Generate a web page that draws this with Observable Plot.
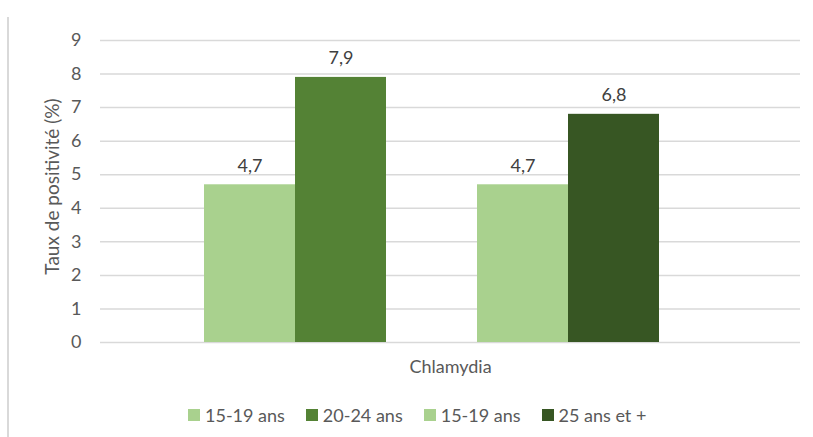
<!DOCTYPE html>
<html>
<head>
<meta charset="utf-8">
<script src="https://cdn.jsdelivr.net/npm/d3@7"></script>
<script src="https://cdn.jsdelivr.net/npm/@observablehq/plot@0.6"></script>
<style>
  html, body { margin: 0; padding: 0; background: #fff; }
  body { width: 813px; height: 437px; overflow: hidden; position: relative; font-family: Lato, "Open Sans", sans-serif; }
  #frame { position: absolute; left: 7px; top: 17px; width: 0; height: 430px; border-left: 2px solid #d9d9d9; }
  #chart { position: absolute; left: 0; top: 0; }
  #legend { position: absolute; left: 188px; top: 404px; display: flex; align-items: center; font-size: 18px; color: #595959; }
  #legend .item { display: flex; align-items: center; margin-right: 21px; }
  #legend .sw { width: 12px; height: 12px; margin-right: 5px; }
</style>
</head>
<body>
<div id="frame"></div>
<div id="chart"></div>
<div id="legend"></div>
<script>
const category = "Chlamydia";
const seriesNames = ["15-19 ans", "20-24 ans", "15-19 ans", "25 ans et +"];
const seriesValues = [4.7, 7.9, 4.7, 6.8];
const seriesColors = ["#A9D18E", "#548235", "#A9D18E", "#375623"];
const slots = ["s0", "s1", "gap", "s2", "s3"];
const barSlots = ["s0", "s1", "s2", "s3"];
const yTicks = [0, 1, 2, 3, 4, 5, 6, 7, 8, 9];
const yLabel = "Taux de positivité (%)";

const data = seriesNames.map((name, i) => ({
  slot: barSlots[i], name, value: seriesValues[i], color: seriesColors[i],
  label: String(seriesValues[i]).replace(".", ",")
}));

const chart = Plot.plot({
  width: 813,
  height: 392,
  marginLeft: 100,
  marginRight: 13,
  marginTop: 40,
  marginBottom: 50,
  style: { fontFamily: "Lato, 'Open Sans', sans-serif", fontSize: "18px", color: "#595959", background: "transparent" },
  x: { type: "band", domain: slots, paddingInner: 0, paddingOuter: 1.3377, align: 0.426, axis: null },
  y: { domain: [0, 9], ticks: yTicks, label: null },
  marks: [
    Plot.ruleY(yTicks, { stroke: "#d9d9d9", strokeWidth: 1.5 }),
    Plot.axisY({ ticks: yTicks, tickSize: 0, tickPadding: 19, tickFormat: d => String(d), label: null, fill: "#595959", fontSize: 18 }),
    Plot.text([yLabel], { frameAnchor: "left", textAnchor: "middle", text: d => d, rotate: -90, dx: -48, dy: -5, fill: "#595959", fontSize: 19 }),
    Plot.barY(data, { x: "slot", y: "value", fill: "color" }),
    Plot.text(data, { x: "slot", y: "value", text: "label", lineAnchor: "bottom", dy: -13, fill: "#404040", fontSize: 18 }),
    Plot.text([category], { frameAnchor: "bottom", text: d => d, lineAnchor: "bottom", dy: 30, fill: "#595959", fontSize: 18 })
  ]
});
document.getElementById("chart").appendChild(chart);

const legend = document.getElementById("legend");
seriesNames.forEach((name, i) => {
  const item = document.createElement("div");
  item.className = "item";
  const sw = document.createElement("span");
  sw.className = "sw";
  sw.style.background = seriesColors[i];
  const t = document.createElement("span");
  t.textContent = name;
  item.appendChild(sw);
  item.appendChild(t);
  legend.appendChild(item);
});
</script>
</body>
</html>
